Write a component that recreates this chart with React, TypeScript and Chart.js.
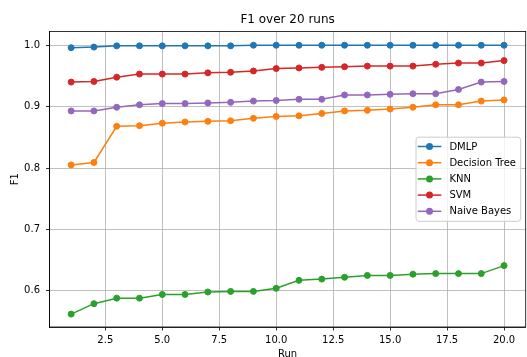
import React, { useEffect, useRef } from "react";
import { Chart, registerables } from "chart.js";

Chart.register(...registerables);

const titleText = "F1 over 20 runs";
const xTitle = "Run";
const yTitle = "F1";

const runs = [1, 2, 3, 4, 5, 6, 7, 8, 9, 10, 11, 12, 13, 14, 15, 16, 17, 18, 19, 20];
const xTicks = [2.5, 5.0, 7.5, 10.0, 12.5, 15.0, 17.5, 20.0];
const yTicks = [0.6, 0.7, 0.8, 0.9, 1.0];

const seriesNames = ["DMLP", "Decision Tree", "KNN", "SVM", "Naive Bayes"];
const seriesColors = ["#1f77b4", "#ff7f0e", "#2ca02c", "#d62728", "#9467bd"];

const dmlp = [0.996, 0.997, 0.999, 0.999, 0.999, 0.999, 0.999, 0.999, 1.0, 1.0, 1.0, 1.0, 1.0, 1.0, 1.0, 1.0, 1.0, 1.0, 1.0, 1.0];
const decisionTree = [0.805, 0.809, 0.868, 0.869, 0.873, 0.875, 0.876, 0.877, 0.881, 0.884, 0.885, 0.889, 0.893, 0.894, 0.896, 0.899, 0.903, 0.903, 0.909, 0.911];
const knn = [0.562, 0.579, 0.588, 0.588, 0.594, 0.594, 0.598, 0.599, 0.599, 0.604, 0.617, 0.619, 0.622, 0.625, 0.625, 0.627, 0.628, 0.628, 0.628, 0.641];
const svm = [0.940, 0.941, 0.948, 0.953, 0.953, 0.953, 0.955, 0.956, 0.958, 0.962, 0.963, 0.964, 0.965, 0.966, 0.966, 0.966, 0.969, 0.971, 0.971, 0.975];
const naiveBayes = [0.893, 0.893, 0.899, 0.903, 0.905, 0.905, 0.906, 0.907, 0.909, 0.910, 0.912, 0.912, 0.919, 0.919, 0.920, 0.921, 0.921, 0.928, 0.940, 0.941];

const seriesValues = [dmlp, decisionTree, knn, svm, naiveBayes];

const FONT = '"DejaVu Sans", sans-serif';

const overlayPlugin = {
  id: "overlay",
  afterDatasetsDraw(chart: any) {
    const { ctx, chartArea: a } = chart;
    ctx.save();
    // spines
    ctx.strokeStyle = "#000";
    ctx.lineWidth = 0.8;
    ctx.strokeRect(a.left, a.top, a.right - a.left, a.bottom - a.top);
    // title
    ctx.fillStyle = "#000";
    ctx.font = `12px ${FONT}`;
    ctx.textAlign = "center";
    ctx.textBaseline = "middle";
    ctx.fillText(titleText, (a.left + a.right) / 2, a.top - 11.5);
    // legend
    ctx.font = `10px ${FONT}`;
    const labels = chart.data.datasets.map((d: any) => d.label);
    const textW = Math.max(...labels.map((l: string) => ctx.measureText(l).width));
    const w = 33.4 + textW + 4.7;
    const rowH = 16.2;
    const h = 19.3 + rowH * (labels.length - 1);
    const right = a.right - 5;
    const left = right - w;
    const top = (a.top + a.bottom) / 2 - h / 2;
    ctx.beginPath();
    (ctx as any).roundRect(left, top, w, h, 3);
    ctx.fillStyle = "rgba(255,255,255,0.8)";
    ctx.fill();
    ctx.strokeStyle = "#cccccc";
    ctx.lineWidth = 1;
    ctx.stroke();
    chart.data.datasets.forEach((d: any, i: number) => {
      const y = top + 9.3 + i * rowH;
      ctx.strokeStyle = d.borderColor;
      ctx.lineWidth = 1.5;
      ctx.beginPath();
      ctx.moveTo(left + 1.7, y);
      ctx.lineTo(left + 25.3, y);
      ctx.stroke();
      ctx.fillStyle = d.borderColor;
      ctx.beginPath();
      ctx.arc(left + 13.5, y, 3.5, 0, Math.PI * 2);
      ctx.fill();
      ctx.fillStyle = "#000";
      ctx.textAlign = "left";
      ctx.textBaseline = "middle";
      ctx.fillText(d.label, left + 33.4, y + 0.5);
    });
    ctx.restore();
  },
};

export default function App() {
  const ref = useRef<HTMLCanvasElement>(null);
  useEffect(() => {
    if (!ref.current) return;
    const chart = new Chart(ref.current, {
      type: "line",
      data: {
        datasets: seriesNames.map((name, i) => ({
          label: name,
          data: runs.map((r, j) => ({ x: r, y: seriesValues[i][j] })),
          borderColor: seriesColors[i],
          backgroundColor: seriesColors[i],
          pointBackgroundColor: seriesColors[i],
          pointBorderColor: seriesColors[i],
          pointBorderWidth: 1,
          pointRadius: 3,
          borderWidth: 1.5,
          tension: 0,
          fill: false,
          order: seriesNames.length - i,
        })),
      },
      options: {
        responsive: false,
        animation: false,
        devicePixelRatio: 1,
        layout: { autoPadding: false, padding: { top: 31.5, right: 1.3, bottom: 0, left: 0 } },
        plugins: {
          legend: { display: false },
          tooltip: { enabled: false },
          title: { display: false },
        },
        scales: {
          x: {
            type: "linear",
            min: 0.05,
            max: 20.95,
            afterFit: (s: any) => {
              s.height = 30;
              s.paddingLeft = 0;
              s.paddingRight = 0;
            },
            afterBuildTicks: (s: any) => {
              s.ticks = xTicks.map((v) => ({ value: v }));
            },
            ticks: {
              callback: (v: any) => Number(v).toFixed(1),
              font: { family: FONT, size: 10 },
              color: "#000",
              padding: 4,
              maxRotation: 0,
              autoSkip: false,
            },
            grid: {
              color: "#b0b0b0",
              lineWidth: 0.8,
              tickColor: "#000",
              tickLength: 3.5,
              drawTicks: true,
            },
            border: { display: true, color: "#000", width: 0.8 },
            title: {
              display: true,
              text: xTitle,
              font: { family: FONT, size: 10 },
              color: "#000",
              padding: { top: 0, bottom: -3 },
            },
          },
          y: {
            type: "linear",
            min: 0.541,
            max: 1.0224,
            afterFit: (s: any) => {
              s.width = 49.5;
              s.paddingTop = 0;
              s.paddingBottom = 0;
            },
            afterBuildTicks: (s: any) => {
              s.ticks = yTicks.map((v) => ({ value: v }));
            },
            ticks: {
              callback: (v: any) => Number(v).toFixed(1),
              font: { family: FONT, size: 10 },
              color: "#000",
              padding: 6,
              autoSkip: false,
            },
            grid: {
              color: "#b0b0b0",
              lineWidth: 0.8,
              tickColor: "#000",
              tickLength: 3.5,
              drawTicks: true,
            },
            border: { display: true, color: "#000", width: 0.8 },
            title: {
              display: true,
              text: yTitle,
              font: { family: FONT, size: 10 },
              color: "#000",
              padding: { top: 9, bottom: 0 },
            },
          },
        },
      },
      plugins: [overlayPlugin],
    });
    return () => chart.destroy();
  }, []);
  return (
    <div style={{ position: "absolute", left: 0, top: 0, width: 527, height: 357, background: "#fff" }}>
      <canvas ref={ref} width={527} height={357} style={{ display: "block" }} />
    </div>
  );
}
